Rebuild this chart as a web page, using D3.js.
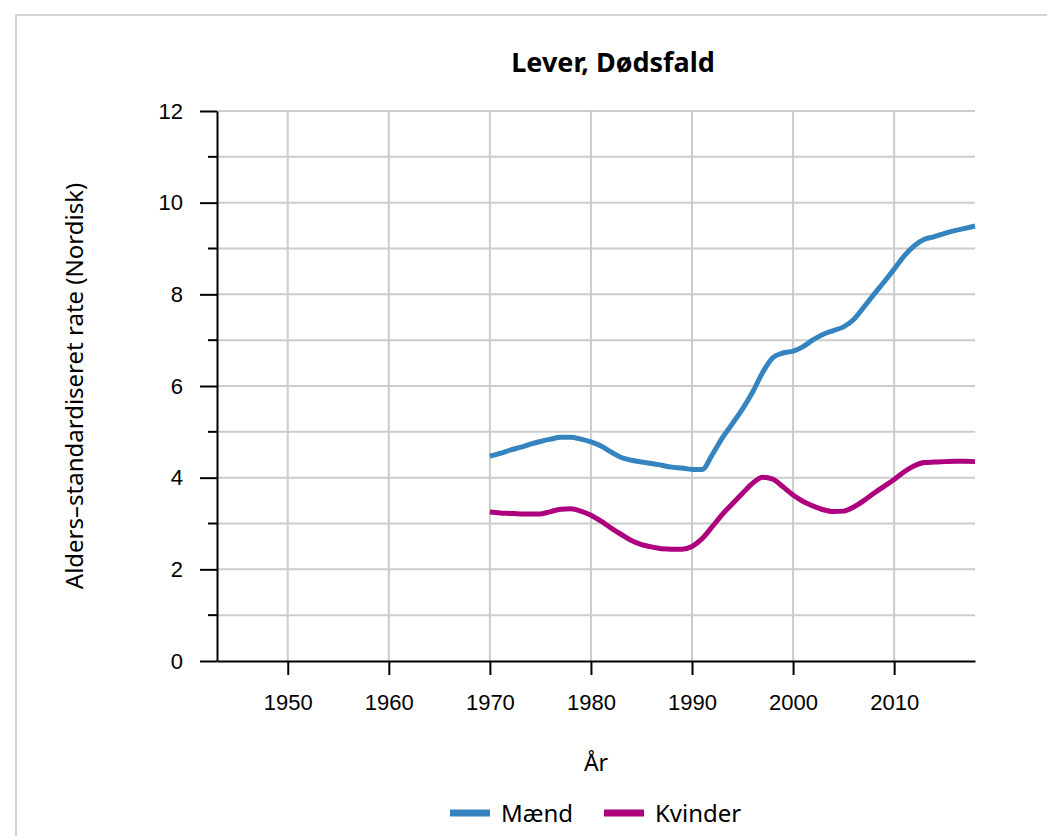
<!DOCTYPE html>
<html>
<head>
<meta charset="utf-8">
<script src="https://cdn.jsdelivr.net/npm/d3@7"></script>
<style>
  body { margin: 0; background: #fff; }
  .tick text { font-family: "Liberation Sans", Arial, sans-serif; font-size: 22px; fill: #000; }
</style>
</head>
<body>
<svg id="chart" width="1047" height="836"></svg>
<script>
var years = d3.range(1970, 2019);
var maend = [4.47, 4.53, 4.60, 4.66, 4.73, 4.79, 4.84, 4.88, 4.88, 4.84,
             4.78, 4.69, 4.56, 4.44, 4.38, 4.34, 4.31, 4.27, 4.23, 4.21,
             4.18, 4.18, 4.50, 4.87, 5.18, 5.50, 5.87, 6.30, 6.62, 6.72,
             6.76, 6.86, 7.01, 7.13, 7.21, 7.29, 7.45, 7.72, 8.00, 8.27,
             8.55, 8.84, 9.06, 9.20, 9.26, 9.33, 9.39, 9.44, 9.49];
var kvinder = [3.25, 3.23, 3.22, 3.21, 3.21, 3.21, 3.26, 3.31, 3.32, 3.27,
               3.18, 3.05, 2.90, 2.76, 2.63, 2.54, 2.49, 2.45, 2.44, 2.44,
               2.50, 2.67, 2.93, 3.20, 3.43, 3.66, 3.88, 4.01, 3.97, 3.80,
               3.62, 3.48, 3.38, 3.30, 3.26, 3.27, 3.36, 3.50, 3.66, 3.81,
               3.96, 4.13, 4.26, 4.33, 4.34, 4.35, 4.36, 4.36, 4.35];
var seriesNames = ["Mænd", "Kvinder"];
var colors = ["#3584bf", "#ae017e"];
var xTicks = [1950, 1960, 1970, 1980, 1990, 2000, 2010];
var yTicks = [0, 2, 4, 6, 8, 10, 12];
var yMinor = d3.range(1, 12, 2);

var svg = d3.select("#chart"),
    margin = {top: 111, right: 72, bottom: 175, left: 217},
    width = 1047 - margin.left - margin.right,
    height = 836 - margin.top - margin.bottom;

// frame
svg.append("rect")
    .attr("x", 16).attr("y", 15)
    .attr("width", 1060).attr("height", 840)
    .attr("fill", "none")
    .attr("stroke", "#d3d3d3")
    .attr("stroke-width", 2);

svg.append("text")
    .attr("x", 613).attr("y", 72)
    .attr("text-anchor", "middle")
    .attr("font-family", "'Noto Sans', sans-serif")
    .attr("font-weight", "bold")
    .attr("font-size", 27)
    .text("Lever, Dødsfald");

var g = svg.append("g").attr("transform", "translate(" + margin.left + "," + margin.top + ")");

var x = d3.scaleLinear().domain([1943, 2018]).range([0, width]);
var y = d3.scaleLinear().domain([0, 12]).range([height, 0]);

// grid
g.append("g").selectAll("line.gy")
    .data(d3.range(1, 13))
    .enter().append("line")
    .attr("x1", 0).attr("x2", width)
    .attr("y1", function(d) { return y(d); })
    .attr("y2", function(d) { return y(d); })
    .attr("stroke", "#cccccc").attr("stroke-width", 2);

g.append("g").selectAll("line.gx")
    .data(xTicks)
    .enter().append("line")
    .attr("x1", function(d) { return x(d); })
    .attr("x2", function(d) { return x(d); })
    .attr("y1", 0).attr("y2", height)
    .attr("stroke", "#cccccc").attr("stroke-width", 2);

// axes
g.append("g")
    .attr("transform", "translate(0," + height + ")")
    .call(d3.axisBottom(x).tickValues(xTicks).tickFormat(d3.format("d")).tickSize(14).tickSizeOuter(0).tickPadding(19));

g.append("g")
    .call(d3.axisLeft(y).tickValues(yTicks).tickSize(17).tickSizeOuter(0).tickPadding(17));

g.append("g").selectAll("line.minor")
    .data(yMinor)
    .enter().append("line")
    .attr("x1", -9).attr("x2", 0)
    .attr("y1", function(d) { return y(d); })
    .attr("y2", function(d) { return y(d); })
    .attr("stroke", "#000").attr("stroke-width", 2);

svg.selectAll(".domain, .tick line").attr("stroke", "#000").attr("stroke-width", 2);

g.append("text")
    .attr("transform", "rotate(-90)")
    .attr("x", -height / 2).attr("y", -134)
    .attr("text-anchor", "middle")
    .attr("font-family", "'Noto Sans', sans-serif")
    .attr("font-size", 24)
    .text("Alders–standardiseret rate (Nordisk)");

g.append("text")
    .attr("x", width / 2).attr("y", height + 110)
    .attr("text-anchor", "middle")
    .attr("font-family", "'Noto Sans', sans-serif")
    .attr("font-size", 23)
    .text("År");

// lines
var line = d3.line()
    .curve(d3.curveMonotoneX)
    .x(function(d, i) { return x(years[i]); })
    .y(function(d) { return y(d); });

[maend, kvinder].forEach(function(s, i) {
    g.append("path")
        .attr("d", line(s))
        .attr("fill", "none")
        .attr("stroke", colors[i])
        .attr("stroke-width", 5)
        .attr("stroke-linejoin", "round");
});

// legend
var legendX = [450, 604];
var legend = svg.append("g");
seriesNames.forEach(function(name, i) {
    legend.append("line")
        .attr("x1", legendX[i]).attr("x2", legendX[i] + 40)
        .attr("y1", 813).attr("y2", 813)
        .attr("stroke", colors[i]).attr("stroke-width", 7);
    legend.append("text")
        .attr("x", legendX[i] + 51).attr("y", 822)
        .attr("font-family", "'Noto Sans', sans-serif")
        .attr("font-size", 24)
        .text(name);
});
</script>
</body>
</html>
